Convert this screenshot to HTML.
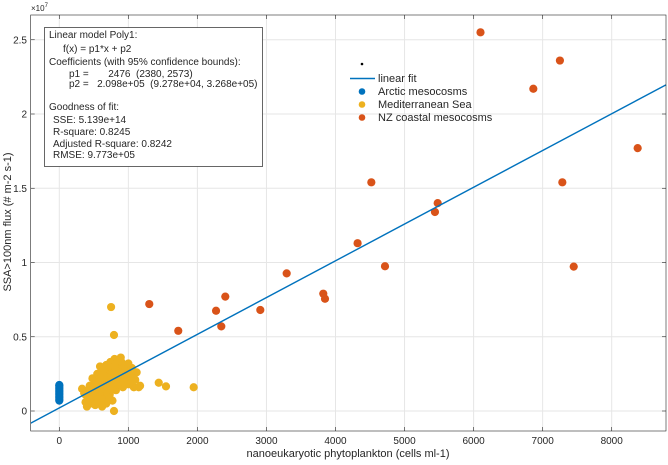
<!DOCTYPE html>
<html><head><meta charset="utf-8"><style>
body{margin:0;background:#fff}
svg text{font-family:"Liberation Sans",sans-serif;fill:#262626}
</style></head><body>
<svg id="chart" width="668" height="460" xmlns="http://www.w3.org/2000/svg">
<g id="grid"></g>
<g id="marks"></g>
<g id="axes"></g>
</svg>
<script>
const xTicks=[0,1000,2000,3000,4000,5000,6000,7000,8000];
const yTicks=[0,0.5,1,1.5,2,2.5];
const yTickLabels=["0","0.5","1","1.5","2","2.5"];
const arcticX=[0,0,0,0,0,0,0,0,0,0,0,0];
const arcticY=[0.07,0.08,0.09,0.10,0.11,0.12,0.13,0.14,0.15,0.16,0.17,0.175];
const medX=[750,792,1440,1545,1946,792,
330,360,380,400,420,440,450,470,480,500,510,520,530,540,550,560,570,580,590,600,610,620,630,640,650,660,670,680,690,700,710,720,730,740,750,760,770,780,790,800,810,820,830,840,850,860,870,880,890,900,910,920,930,950,970,990,1010,1030,1050,1080,1100,1120,1150,1170,
420,460,500,540,580,620,660,700,740,780,820,860,900,940,980,1020,1060,
450,490,530,570,610,650,690,730,770,810,850,890,930,970,
380,430,480,520,560,600,640,680,720,760,800,840,880,560,600,640,700,760,820,880,940,1000,1060,
600,650,700,750,800,850,900,950,1000,680,720,620];
const medY=[0.70,0.512,0.19,0.166,0.16,0.0,
0.15,0.12,0.06,0.03,0.10,0.17,0.05,0.13,0.22,0.08,0.18,0.04,0.14,0.10,0.25,0.06,0.19,0.12,0.30,0.08,0.16,0.22,0.04,0.27,0.13,0.19,0.09,0.31,0.24,0.15,0.20,0.28,0.11,0.33,0.17,0.23,0.07,0.29,0.19,0.35,0.25,0.14,0.31,0.21,0.27,0.33,0.18,0.24,0.36,0.22,0.30,0.16,0.26,0.20,0.28,0.23,0.18,0.24,0.29,0.16,0.21,0.26,0.16,0.17,
0.14,0.11,0.16,0.13,0.18,0.15,0.20,0.17,0.22,0.19,0.24,0.21,0.25,0.22,0.20,0.19,0.22,
0.09,0.12,0.10,0.15,0.12,0.17,0.14,0.19,0.16,0.21,0.18,0.23,0.20,0.18,
0.11,0.13,0.15,0.17,0.20,0.22,0.24,0.26,0.28,0.27,0.26,0.29,0.24,0.06,0.10,0.08,0.12,0.14,0.30,0.32,0.26,0.24,0.20,
0.26,0.28,0.30,0.32,0.30,0.34,0.33,0.30,0.32,0.05,0.08,0.03];
const nzX=[6100,7250,6865,8376,4519,7285,4717,7450,5480,5440,4320,1303,1723,2270,2404,2346,2911,3293,3823,3848];
const nzY=[2.55,2.36,2.17,1.77,1.54,1.54,0.975,0.972,1.40,1.34,1.13,0.72,0.54,0.675,0.77,0.57,0.68,0.927,0.79,0.756];
const fitP1=0.0002476, fitP2=0.02098;

const L=30.7,R=666,T=15,B=431;
const X=v=>59.3+v*0.06905;
const Y=v=>411-v*148.5;
const NS="http://www.w3.org/2000/svg";
function mk(p,tag,a,txt){const e=document.createElementNS(NS,tag);for(const k in a)e.setAttribute(k,a[k]);if(txt!=null)e.textContent=txt;p.appendChild(e);return e;}
const grid=document.getElementById('grid'),marks=document.getElementById('marks'),axes=document.getElementById('axes');
mk(grid,'rect',{x:L,y:T,width:R-L,height:B-T,fill:'#fff'});
xTicks.forEach(t=>{const l=mk(grid,'line',{x1:X(t),x2:X(t),y1:T,y2:B,stroke:'#e6e6e6','stroke-width':1});
});
yTicks.forEach(t=>{const l=mk(grid,'line',{x1:L,x2:R,y1:Y(t),y2:Y(t),stroke:'#e6e6e6','stroke-width':1});
});
function dots(xs,ys,col,name){xs.forEach((x,i)=>{const c=mk(marks,'circle',{cx:X(x),cy:Y(ys[i]),r:4.1,fill:col});

});}
dots(arcticX,arcticY,'#0072BD','arctic-point');
dots(medX,medY,'#EDB120','mediterranean-point');
dots(nzX,nzY,'#D95319','nz-point');
const x1=-413,x2=8786;
const fl=mk(marks,'line',{x1:X(x1),y1:Y(fitP1*x1+fitP2),x2:X(x2),y2:Y(fitP1*x2+fitP2),stroke:'#0072BD','stroke-width':1.4});

mk(axes,'rect',{x:L,y:T,width:R-L,height:B-T,fill:'none',stroke:'#262626','stroke-width':0.6});
xTicks.forEach(t=>{mk(axes,'line',{x1:X(t),x2:X(t),y1:B,y2:B-4,stroke:'#262626','stroke-width':0.6});mk(axes,'line',{x1:X(t),x2:X(t),y1:T,y2:T+4,stroke:'#262626','stroke-width':0.6});
const tx=mk(axes,'text',{x:X(t),y:444,'font-size':10,'text-anchor':'middle'},String(t));
});
yTicks.forEach((t,i)=>{mk(axes,'line',{x1:L,x2:L+4,y1:Y(t),y2:Y(t),stroke:'#262626','stroke-width':0.6});mk(axes,'line',{x1:R,x2:R-4,y1:Y(t),y2:Y(t),stroke:'#262626','stroke-width':0.6});
const tx=mk(axes,'text',{x:27,y:Y(t)+3.5,'font-size':10,'text-anchor':'end'},yTickLabels[i]);
});
</script>
<svg style="position:absolute;left:0;top:0" width="668" height="460" xmlns="http://www.w3.org/2000/svg">
<text x="31" y="11" font-size="8">×10<tspan dy="-4" font-size="6">7</tspan></text>
<text x="348" y="457" font-size="11" text-anchor="middle">nanoeukaryotic phytoplankton (cells ml-1)</text>
<text transform="translate(11,222) rotate(-90)" font-size="11" text-anchor="middle">SSA&gt;100nm flux (# m-2 s-1)</text>
<g font-size="10">
<rect x="44.5" y="27.5" width="218" height="139" fill="#fff" stroke="#262626" stroke-width="0.7"/>
<text x="49" y="38">Linear model Poly1:</text>
<text x="63" y="52">f(x) = p1*x + p2</text>
<text x="49" y="65">Coefficients (with 95% confidence bounds):</text>
<text x="69" y="77" xml:space="preserve">p1 =       2476  (2380, 2573)</text>
<text x="69" y="87" xml:space="preserve">p2 =   2.098e+05  (9.278e+04, 3.268e+05)</text>
<text x="49" y="110">Goodness of fit:</text>
<text x="53" y="123">SSE: 5.139e+14</text>
<text x="53" y="135">R-square: 0.8245</text>
<text x="53" y="147">Adjusted R-square: 0.8242</text>
<text x="53" y="158">RMSE: 9.773e+05</text>
</g>
<g font-size="11">
<circle cx="362" cy="64" r="1.3" fill="#000"/>
<line x1="350" y1="78.5" x2="375" y2="78.5" stroke="#0072BD" stroke-width="1.4"/>
<text x="378" y="82">linear fit</text>
<circle cx="362" cy="91.5" r="3.3" fill="#0072BD"/><text x="378" y="95">Arctic mesocosms</text>
<circle cx="362" cy="104.5" r="3.3" fill="#EDB120"/><text x="378" y="108">Mediterranean Sea</text>
<circle cx="362" cy="117.5" r="3.3" fill="#D95319"/><text x="378" y="121">NZ coastal mesocosms</text>
</g>
</svg>
</body></html>
